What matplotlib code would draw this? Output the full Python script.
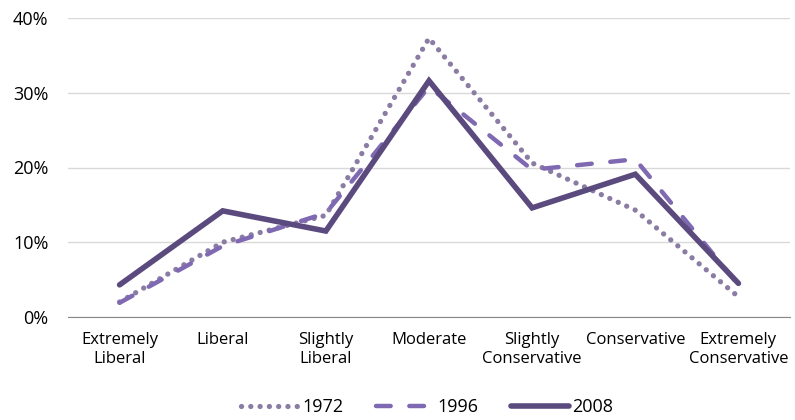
import numpy as np
import matplotlib.pyplot as plt

plt.rcParams['font.family'] = ['Open Sans', 'DejaVu Sans']

categories = ['Extremely\nLiberal', 'Liberal', 'Slightly\nLiberal', 'Moderate',
              'Slightly\nConservative', 'Conservative', 'Extremely\nConservative']
y1972 = [2.0, 10.0, 13.6, 37.3, 20.6, 14.3, 2.7]
y1996 = [1.9, 9.5, 13.9, 30.8, 19.7, 21.1, 4.3]
y2008 = [4.3, 14.2, 11.5, 31.6, 14.6, 19.1, 4.5]

fig = plt.figure(figsize=(7.95, 4.2), dpi=100)
ax = fig.add_axes([68 / 795, 103 / 420, 722 / 795, 299 / 420])

x = np.arange(len(categories))
ax.plot(x, y1972, color='#8a7ca3', lw=3.8, linestyle=(0, (0.01, 1.75)),
        dash_capstyle='round', label='1972')
ax.plot(x, y1996, color='#7f69b2', lw=3.2, linestyle=(0, (3.3, 4.2)),
        dash_capstyle='round', label='1996')
ax.plot(x, y2008, color='#5b4a7e', lw=4.0, solid_capstyle='round',
        solid_joinstyle='miter', label='2008')

ax.set_xlim(-0.5, 6.5)
ax.set_ylim(0, 40)
ax.set_yticks([0, 10, 20, 30, 40])
ax.set_yticklabels(['0%', '10%', '20%', '30%', '40%'], fontsize=13)
ax.set_xticks(x)
ax.set_xticklabels(categories, fontsize=12, linespacing=1.25)
ax.tick_params(axis='x', length=0, pad=11)
ax.tick_params(axis='y', length=0, pad=14)
ax.grid(axis='y', color='#d9d9d9', lw=1)
ax.set_axisbelow(True)
for s in ['top', 'right', 'left']:
    ax.spines[s].set_visible(False)
ax.spines['bottom'].set_color('#888888')

fig.legend(loc='center', bbox_to_anchor=(0.537, 0.03), ncol=3, frameon=False,
           fontsize=13, handlelength=3.2, columnspacing=1.8, handletextpad=0.2,
           borderaxespad=0)

fig.savefig('out.png', dpi=100)
